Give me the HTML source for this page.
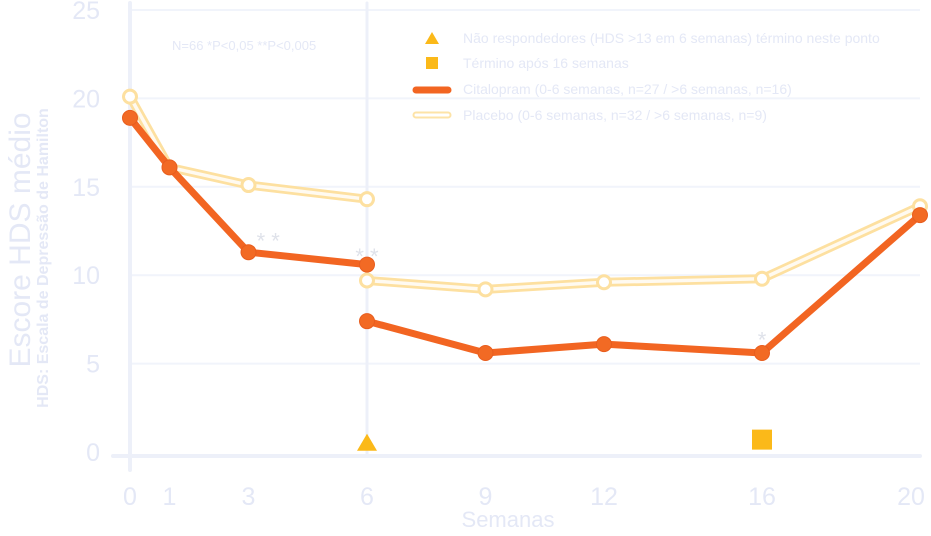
<!DOCTYPE html>
<html><head><meta charset="utf-8"><style>
body{margin:0;background:#fff;width:931px;height:531px;overflow:hidden;font-family:"Liberation Sans",sans-serif}
svg text{font-family:"Liberation Sans",sans-serif;fill:#e4e8f6}
</style></head><body>
<svg id="chart" width="931" height="531" viewBox="0 0 931 531" xmlns="http://www.w3.org/2000/svg">
<g id="grid"></g>
<g id="axes"></g>
<g id="series"></g>
<g id="legend">
  <polygon points="425,44 432,32 439,44" fill="#fbb919"/>
  <text x="463" y="43" font-size="14">Não respondedores (HDS &gt;13 em 6 semanas) término neste ponto</text>
  <rect x="426" y="57" width="12" height="12" fill="#fbb919"/>
  <text x="463" y="68" font-size="14">Término após 16 semanas</text>
  <line x1="416" y1="90" x2="448" y2="90" stroke="#f26522" stroke-width="7" stroke-linecap="round"/>
  <text x="463" y="94" font-size="14">Citalopram (0-6 semanas, n=27 / &gt;6 semanas, n=16)</text>
  <line x1="416" y1="115" x2="448" y2="115" stroke="#fde3a7" stroke-width="7" stroke-linecap="round"/>
  <line x1="416" y1="115" x2="448" y2="115" stroke="#fff" stroke-width="3" stroke-linecap="round"/>
  <text x="463" y="120" font-size="14">Placebo (0-6 semanas, n=32 / &gt;6 semanas, n=9)</text>
</g>
<text x="172" y="50" font-size="13">N=66 *P&lt;0,05 **P&lt;0,005</text>
<text transform="translate(30,240) rotate(-90)" text-anchor="middle" font-size="30">Escore HDS médio</text>
<text transform="translate(48,258) rotate(-90)" text-anchor="middle" font-size="16" font-weight="bold">HDS: Escala de Depressão de Hamilton</text>
<text x="508" y="527" text-anchor="middle" font-size="22">Semanas</text>
</svg>
<script>
const yTicks=[0,5,10,15,20,25];
const xTicks=[0,1,3,6,9,12,16,20];
const citaWeeksA=[0,1,3,6];
const citaValsA=[18.9,16.1,11.3,10.6];
const citaWeeksB=[6,9,12,16,20];
const citaValsB=[7.4,5.6,6.1,5.6,13.4];
const placWeeksA=[0,1,3,6];
const placValsA=[20.1,16.1,15.1,14.3];
const placWeeksB=[6,9,12,16,20];
const placValsB=[9.7,9.2,9.6,9.8,13.9];
const triangleWeek=[6], triangleVal=[0.3];
const squareWeek=[16], squareVal=[0.7];
const starLabels=["* *","* *","*"];
const starWeeks=[3.5,6,16];
const starVals=[12.2,11.3,6.6];

const NS="http://www.w3.org/2000/svg";
const X=w=>130+39.5*w;
const Y=v=>452-17.68*v;
function mk(t,a,p){const e=document.createElementNS(NS,t);for(const k in a)e.setAttribute(k,a[k]);p.appendChild(e);return e;}
const grid=document.getElementById('grid'),axes=document.getElementById('axes'),ser=document.getElementById('series');
yTicks.forEach(v=>{
  if(v>0){const l=mk('line',{x1:130,x2:920,y1:Y(v),y2:Y(v),stroke:'#f1f4fb','stroke-width':2},grid);
  
  }
  const t=mk('text',{x:100,y:Y(v)+9,'text-anchor':'end','font-size':25},axes);t.textContent=v;
  
  
});
xTicks.forEach((w,i)=>{
  const t=mk('text',{x:Math.min(X(w),911),y:505,'text-anchor':'middle','font-size':25},axes);t.textContent=w;
  
  
});
let a=mk('line',{x1:130,x2:130,y1:3,y2:470,stroke:'#edf0f9','stroke-width':4,'stroke-linecap':'round'},axes);


a=mk('line',{x1:113,x2:920,y1:456,y2:456,stroke:'#edf0f9','stroke-width':4,'stroke-linecap':'round'},axes);


a=mk('line',{x1:X(6),x2:X(6),y1:3,y2:456,stroke:'#edf0f9','stroke-width':3,'stroke-linecap':'round'},axes);


function pts(ws,vs){return ws.map((w,i)=>X(w)+','+Y(vs[i])).join(' ');}
function placebo(ws,vs,name){
  let p=mk('polyline',{points:pts(ws,vs),fill:'none',stroke:'#fde0a0','stroke-width':9,'stroke-linejoin':'round'},ser);
  
  
  p=mk('polyline',{points:pts(ws,vs),fill:'none',stroke:'#fffaf0','stroke-width':3.5,'stroke-linejoin':'round'},ser);
  
  
  ws.forEach((w,i)=>{const c=mk('circle',{cx:X(w),cy:Y(vs[i]),r:6.5,fill:'#fff',stroke:'#fde0a0','stroke-width':3},ser);
  
  });
}
function cita(ws,vs,name){
  let p=mk('polyline',{points:pts(ws,vs),fill:'none',stroke:'#f26522','stroke-width':7,'stroke-linejoin':'round'},ser);
  
  
  ws.forEach((w,i)=>{const c=mk('circle',{cx:X(w),cy:Y(vs[i]),r:7.5,fill:'#f26a24',stroke:'#e85d1e','stroke-width':1},ser);
  
  });
}
placebo(placWeeksA,placValsA,'placebo-line-0-6');
placebo(placWeeksB,placValsB,'placebo-line-6-20');
cita(citaWeeksA,citaValsA,'citalopram-line-0-6');
cita(citaWeeksB,citaValsB,'citalopram-line-6-20');
triangleWeek.forEach((w,i)=>{const x=X(w),y=Y(triangleVal[i]);
  const t=mk('polygon',{points:`${x-10},${y+4} ${x},${y-13} ${x+10},${y+4}`,fill:'#fbb919'},ser);
  
  });
squareWeek.forEach((w,i)=>{const x=X(w),y=Y(squareVal[i]);
  const s=mk('rect',{x:x-10,y:y-10,width:20,height:20,fill:'#fbb919'},ser);
  
  });
starLabels.forEach((s,i)=>{const t=mk('text',{x:X(starWeeks[i]),y:Y(starVals[i])+12,'text-anchor':'middle','font-size':22,style:'fill:#dfe2ea'},ser);t.textContent=s;
  
  });
</script>
</body></html>
